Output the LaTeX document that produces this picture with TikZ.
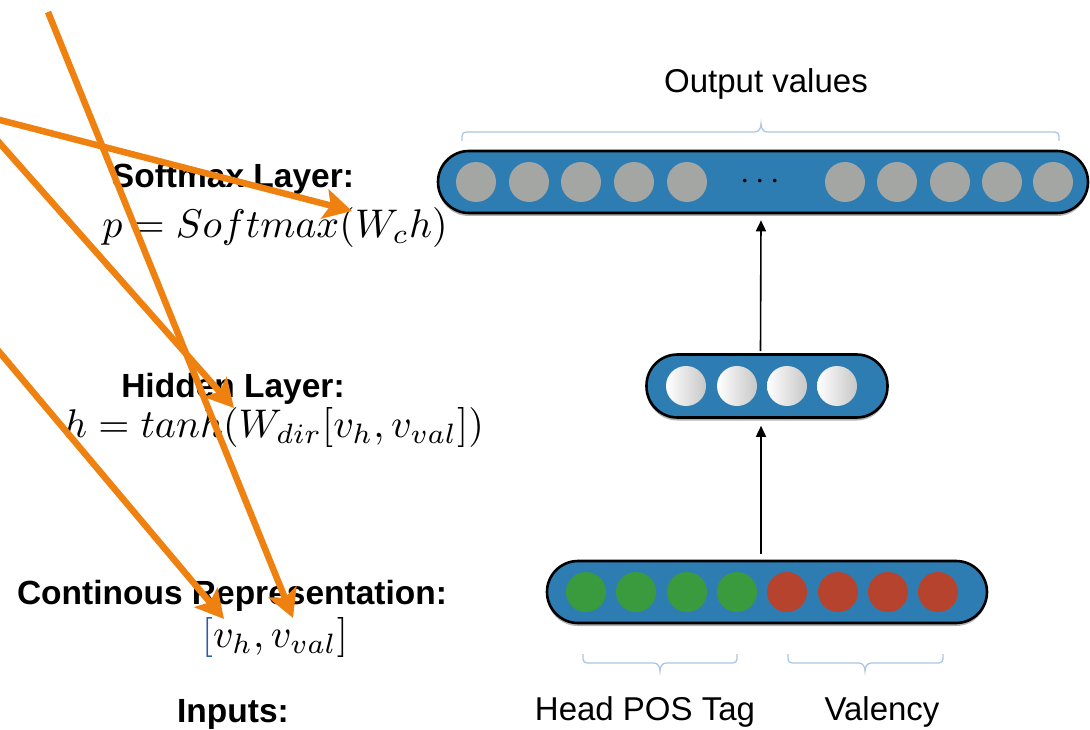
\RequirePackage{fix-cm}
\documentclass[tikz,border=0pt]{standalone}
\usepackage{graphicx}
\usepackage[no-math]{fontspec}
\setmainfont{Liberation Sans}
\usetikzlibrary{arrows.meta,shadows,calc}
\definecolor{barblue}{HTML}{2E7DB2}
\definecolor{dotgrey}{HTML}{A4A6A4}
\definecolor{posgreen}{HTML}{3A9A3E}
\definecolor{valred}{HTML}{B5432D}
\definecolor{bracelight}{HTML}{A9C6E4}
\definecolor{notes}{HTML}{EF8110}
\definecolor{brk}{HTML}{2A5DA8}
\newcommand{\bigmath}[1]{\scalebox{4.0}{$#1$}}
\begin{document}
\begin{tikzpicture}[x=1pt,y=-1pt,
  bar/.style={draw=black, line width=2.6pt, fill=barblue, rounded corners=31pt, inner sep=0pt,
    drop shadow={shadow xshift=0pt, shadow yshift=-3pt, opacity=0.3, fill=black}},
  unit/.style={circle, inner sep=0pt, minimum size=40pt},
  outunit/.style={unit, fill=dotgrey},
  hidunit/.style={unit, left color=white, right color=black!22},
  posunit/.style={unit, fill=posgreen},
  valunit/.style={unit, fill=valred},
  flow/.style={draw=black, line width=1.6pt, -{Triangle[length=11pt,width=10pt]}},
  brace/.style={draw=bracelight, line width=1.3pt},
  head/.style={font=\fontsize{33.5}{40}\selectfont\bfseries, anchor=base, inner sep=0pt},
  formula/.style={font=\fontsize{10}{12}\selectfont, anchor=base, inner sep=0pt},
  caption/.style={font=\fontsize{33}{40}\selectfont, anchor=base, inner sep=0pt},
  note/.style={draw=notes, line width=6.5pt, -{Stealth[length=28pt,width=30pt,inset=6pt]}},
]
\path[use as bounding box] (0,0) rectangle (1090,730);

% output layer
\node[bar, minimum width=650pt, minimum height=62pt] (outbar) at (763,182) {};
\foreach \x [count=\i] in {476,529,581,634,687} \node[outunit] (o\i) at (\x,182) {};
\foreach \x [count=\i from 6] in {845,897,950,1002,1053} \node[outunit] (o\i) at (\x,182) {};
\node[font=\fontsize{34}{40}\selectfont, inner sep=0pt] (odots) at (760,182) {$\cdots$};

% hidden layer
\node[bar, minimum width=241pt, minimum height=63pt] (hidbar) at (767,386) {};
\foreach \x [count=\i] in {686,737,787,837} \node[hidunit] (h\i) at (\x,386) {};

% input layer
\node[bar, minimum width=440pt, minimum height=62pt] (inbar) at (767,592) {};
\foreach \x [count=\i] in {586,636,687,737} \node[posunit] (g\i) at (\x,592) {};
\foreach \x [count=\i] in {787,838,888,938} \node[valunit] (r\i) at (\x,592) {};

% flow between layers
\draw[flow] ([xshift=-6pt,yshift=6pt]inbar.north) -- ([xshift=-6pt,yshift=-7pt]hidbar.south);
\draw[flow] ([xshift=-6.5pt,yshift=2pt]hidbar.north) -- ([xshift=-2pt,yshift=-6pt]outbar.south);

% braces
\draw[brace] (462,141) -- (462,136) to[out=90,in=180] (466,132) -- (755,132)
  to[out=0,in=-90] (761,124) to[out=-90,in=180] (767,132) -- (1055,132)
  to[out=0,in=90] (1059,136) -- (1059,141);
\draw[brace] (583,654) -- (583,659) to[out=-90,in=180] (587,663) -- (654,663)
  to[out=0,in=90] (660,671) to[out=90,in=180] (666,663) -- (733,663)
  to[out=0,in=-90] (737,659) -- (737,654);
\draw[brace] (788,654) -- (788,659) to[out=-90,in=180] (792,663) -- (859,663)
  to[out=0,in=90] (865,671) to[out=90,in=180] (871,663) -- (939,663)
  to[out=0,in=-90] (943,659) -- (943,654);

% captions
\node[caption] (outlbl) at (766,93) {Output values};
\node[caption] (poslbl) at (645,720) {Head POS Tag};
\node[caption] (vallbl) at (882,720) {Valency};

% layer descriptions
\node[head] (smlbl) at (233,188) {Softmax Layer:};
\node[formula] (smeq) at (275,238) {\bigmath{p = Softmax(W_c h)}};
\node[head] (hidlbl) at (233,397) {Hidden Layer:};
\node[formula] (hideq) at (274,437) {\bigmath{h = tanh(W_{dir}[v_h, v_{val}])}};
\node[head] (replbl) at (232,604) {Continous Representation:};
\node[formula] (repeq) at (275,647) {\bigmath{{\color{brk}[}v_h, v_{val}]}};
\node[head] (inlbl) at (233,722) {Inputs:};

% annotation arrows
\coordinate (n1s) at (-4,119); \coordinate (n1e) at (352,211);
\coordinate (n2s) at (48,12);  \coordinate (n2e) at (293,618);
\coordinate (n3s) at (-4,139); \coordinate (n3e) at (234,408);
\coordinate (n4s) at (-4,348); \coordinate (n4e) at (224,619);
\draw[note] (n1s) -- (n1e);
\draw[note] (n2s) -- (n2e);
\draw[note] (n3s) -- (n3e);
\draw[note] (n4s) -- (n4e);
\end{tikzpicture}
\end{document}
